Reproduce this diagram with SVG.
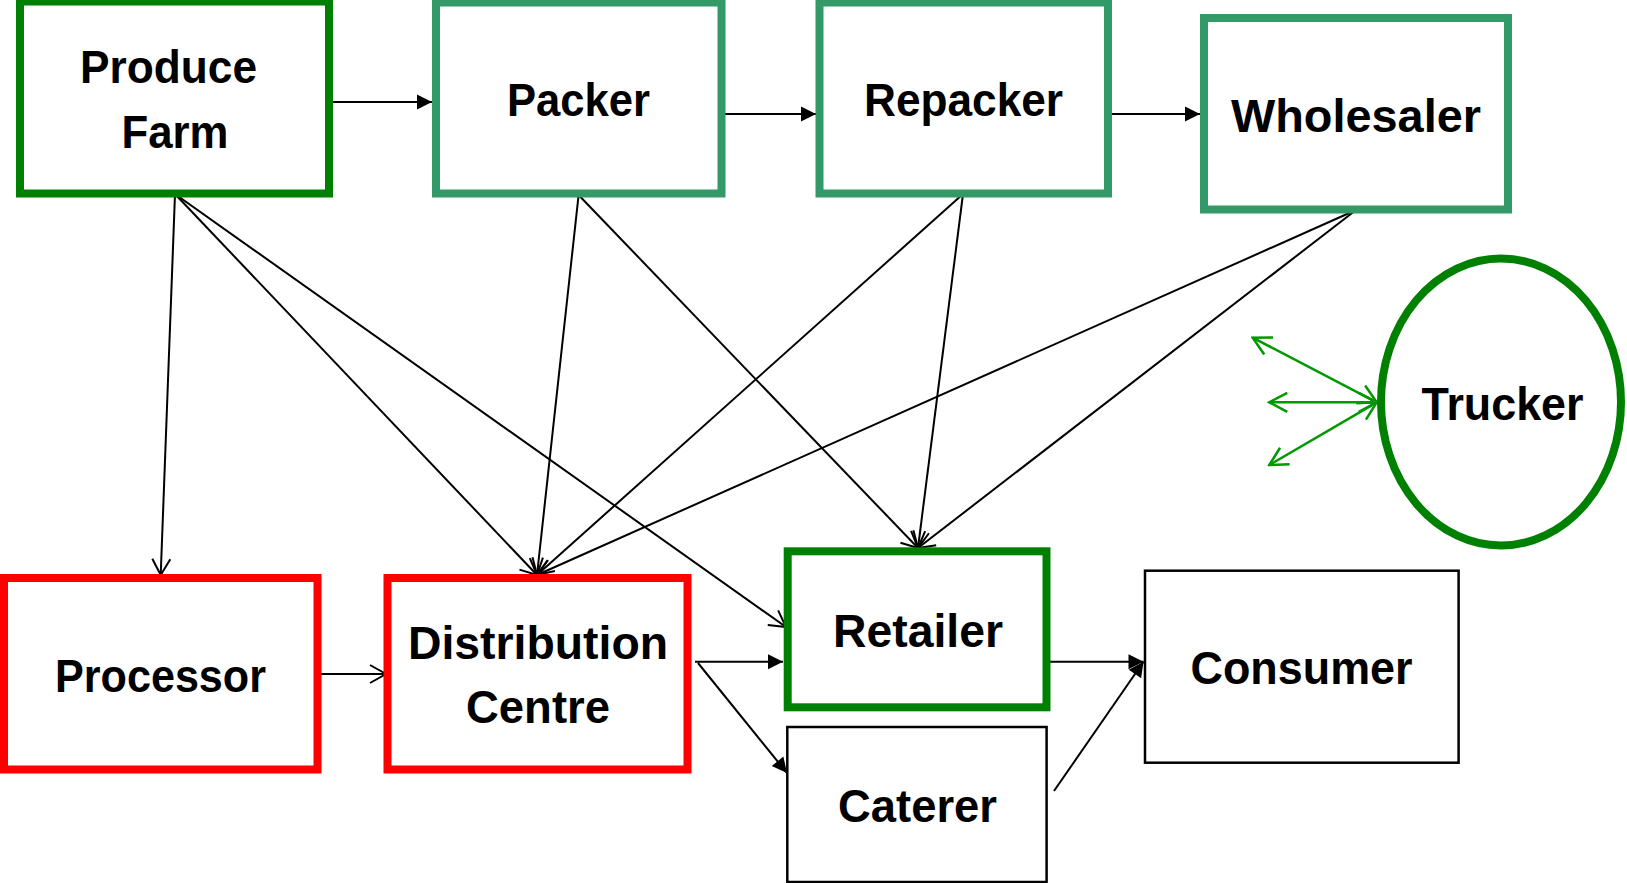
<svg xmlns="http://www.w3.org/2000/svg" width="1627" height="883" viewBox="0 0 1627 883">
<style>
.lbl{font-family:"Liberation Sans",Arial,sans-serif;font-weight:bold;font-size:47px;fill:#000;text-anchor:middle}
.box{fill:#fff;stroke-width:8}
.thin{fill:#fff;stroke:#000;stroke-width:2.5}
.con{stroke:#000;stroke-width:2;fill:none}
.gcon{stroke:#009900;stroke-width:2.5;fill:none}
</style>
<defs>
<marker id="fill" viewBox="-17 -9 19 18" refX="0" refY="0" markerWidth="19" markerHeight="18" markerUnits="userSpaceOnUse" orient="auto"><path d="M-15,-7.5 L0,0 L-15,7.5 Z" fill="#000"/></marker>
<marker id="open" viewBox="-19 -11 21 22" refX="0" refY="0" markerWidth="21" markerHeight="22" markerUnits="userSpaceOnUse" orient="auto"><path d="M-16,-9 L0,0 L-16,9" fill="none" stroke="#000" stroke-width="2"/></marker>
<marker id="gopen" viewBox="-21 -12 23 24" refX="0" refY="0" markerWidth="23" markerHeight="24" markerUnits="userSpaceOnUse" orient="auto-start-reverse"><path d="M-18,-9.5 L0,0 L-18,9.5" fill="none" stroke="#009900" stroke-width="2.5"/></marker>
</defs>
<rect width="1627" height="883" fill="#fff"/>
<g id="connectors">
<line class="con" x1="333" y1="102" x2="432" y2="102" marker-end="url(#fill)"/>
<line class="con" x1="725" y1="114" x2="816" y2="114" marker-end="url(#fill)"/>
<line class="con" x1="1111" y1="114" x2="1200" y2="114" marker-end="url(#fill)"/>
<line class="con" x1="175" y1="194" x2="160.7" y2="575" marker-end="url(#open)"/>
<line class="con" x1="175" y1="194" x2="537" y2="575" marker-end="url(#open)"/>
<line class="con" x1="175" y1="194" x2="786" y2="627" marker-end="url(#open)"/>
<line class="con" x1="578.6" y1="195" x2="537" y2="575" marker-end="url(#open)"/>
<line class="con" x1="578.6" y1="195" x2="918" y2="548" marker-end="url(#open)"/>
<line class="con" x1="963" y1="194" x2="537" y2="575" marker-end="url(#open)"/>
<line class="con" x1="963" y1="194" x2="918" y2="548" marker-end="url(#open)"/>
<line class="con" x1="1356" y1="210" x2="537" y2="575" marker-end="url(#open)"/>
<line class="con" x1="1356" y1="210" x2="918" y2="548" marker-end="url(#open)"/>
<line class="con" x1="319" y1="674" x2="386" y2="674" marker-end="url(#open)"/>
<line class="con" x1="695" y1="661.7" x2="783" y2="661.7" marker-end="url(#fill)"/>
<line class="con" x1="698" y1="663" x2="787" y2="773" marker-end="url(#fill)"/>
<line class="con" x1="1043" y1="661.7" x2="1143.5" y2="661.7" marker-end="url(#fill)"/>
<line class="con" x1="1054" y1="791" x2="1143.5" y2="661.7" marker-end="url(#fill)"/>
<line class="gcon" x1="1376.7" y1="402.3" x2="1252.7" y2="337.7" marker-start="url(#gopen)" marker-end="url(#gopen)"/>
<line class="gcon" x1="1376.7" y1="402.3" x2="1269.3" y2="402.3" marker-start="url(#gopen)" marker-end="url(#gopen)"/>
<line class="gcon" x1="1376.7" y1="402.3" x2="1269.3" y2="465" marker-start="url(#gopen)" marker-end="url(#gopen)"/>
</g>
<g id="produce-farm">
<rect class="box" x="20" y="1.5" width="309" height="192" stroke="#008000"/>
<text class="lbl" x="168.5" y="83.3" textLength="177" lengthAdjust="spacingAndGlyphs">Produce</text>
<text class="lbl" x="175" y="148.3" textLength="107" lengthAdjust="spacingAndGlyphs">Farm</text>
</g>
<g id="packer">
<rect class="box" x="436" y="2.5" width="285.5" height="191" stroke="#339966"/>
<text class="lbl" x="578.5" y="116" textLength="143" lengthAdjust="spacingAndGlyphs">Packer</text>
</g>
<g id="repacker">
<rect class="box" x="819.5" y="2.5" width="288.5" height="191" stroke="#339966"/>
<text class="lbl" x="963.5" y="116" textLength="199" lengthAdjust="spacingAndGlyphs">Repacker</text>
</g>
<g id="wholesaler">
<rect class="box" x="1204" y="18" width="304" height="191.5" stroke="#339966"/>
<text class="lbl" x="1356" y="132" textLength="250" lengthAdjust="spacingAndGlyphs">Wholesaler</text>
</g>
<g id="trucker">
<ellipse cx="1501" cy="402" rx="120" ry="143.5" fill="#fff" stroke="#008000" stroke-width="8"/>
<text class="lbl" x="1502.5" y="420" textLength="162" lengthAdjust="spacingAndGlyphs">Trucker</text>
</g>
<g id="processor">
<rect class="box" x="4" y="578" width="313.5" height="191.5" stroke="#ff0000"/>
<text class="lbl" x="160.5" y="691.7" textLength="211" lengthAdjust="spacingAndGlyphs">Processor</text>
</g>
<g id="distribution-centre">
<rect class="box" x="387.5" y="578" width="300" height="191.5" stroke="#ff0000"/>
<text class="lbl" x="538" y="659.3" textLength="260" lengthAdjust="spacingAndGlyphs">Distribution</text>
<text class="lbl" x="538" y="723.3" textLength="144" lengthAdjust="spacingAndGlyphs">Centre</text>
</g>
<g id="retailer">
<rect class="box" x="787.7" y="551.3" width="258.8" height="156" stroke="#008000"/>
<text class="lbl" x="918" y="646.7" textLength="170" lengthAdjust="spacingAndGlyphs">Retailer</text>
</g>
<g id="caterer">
<rect class="thin" x="787.3" y="727" width="259.3" height="155"/>
<text class="lbl" x="917.5" y="821.7" textLength="159" lengthAdjust="spacingAndGlyphs">Caterer</text>
</g>
<g id="consumer">
<rect class="thin" x="1145" y="570.7" width="313.6" height="192"/>
<text class="lbl" x="1301.5" y="684" textLength="222" lengthAdjust="spacingAndGlyphs">Consumer</text>
</g>
</svg>
